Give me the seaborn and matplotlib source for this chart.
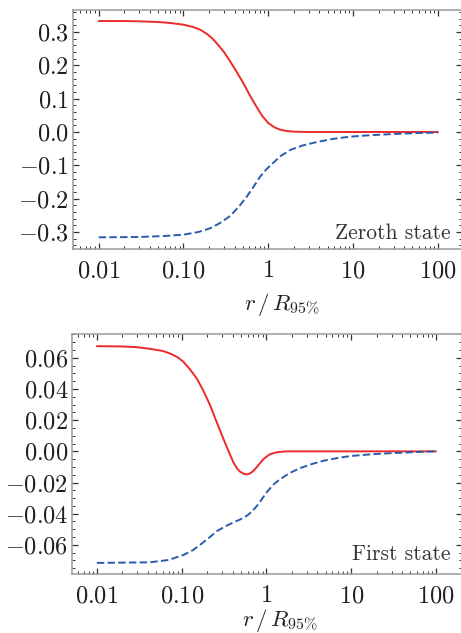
"""
Zeroth and first state profiles against r / R95%
"""

import numpy as np
import pandas as pd
import matplotlib
matplotlib.use("Agg")
import matplotlib.pyplot as plt
import matplotlib.ticker as mticker
import seaborn as sns

# zeroth state
zeroth_r_red = [0.01, 0.02, 0.03, 0.05, 0.07, 0.1, 0.13, 0.157, 0.19, 0.22, 0.247, 0.3, 0.355, 0.42,
                0.51, 0.6, 0.733, 0.85, 1.0, 1.18, 1.38, 1.65, 1.98, 3.0, 10.0, 100.0]
zeroth_red = [0.333, 0.333, 0.332, 0.330, 0.327, 0.322, 0.315, 0.307, 0.294, 0.280, 0.266, 0.240, 0.212, 0.182,
              0.146, 0.112, 0.074, 0.048, 0.027, 0.014, 0.007, 0.003, 0.001, 0.0, 0.0, 0.0]
zeroth_r_blue = [0.01, 0.03, 0.06, 0.1, 0.15, 0.206, 0.27, 0.355, 0.45, 0.558, 0.68, 0.80, 0.95, 1.15,
                 1.4, 1.81, 2.5, 3.75, 6.0, 9.3, 15.0, 30.0, 60.0, 100.0]
zeroth_blue = [-0.316, -0.315, -0.312, -0.308, -0.300, -0.289, -0.273, -0.252, -0.224, -0.194, -0.162, -0.134,
               -0.112, -0.092, -0.072, -0.054, -0.041, -0.030, -0.020, -0.014, -0.010, -0.006, -0.003, -0.002]

# first state
first_r_red = [0.01, 0.02, 0.03, 0.0423, 0.06, 0.073, 0.09, 0.105, 0.125, 0.151, 0.18, 0.217, 0.26, 0.311,
               0.36, 0.408, 0.45, 0.49, 0.54, 0.588, 0.64, 0.705, 0.8, 0.925, 1.1, 1.33, 1.6, 1.91, 10.0, 100.0]
first_red = [0.0675, 0.0673, 0.0668, 0.0658, 0.0644, 0.0628, 0.0603, 0.0574, 0.0527, 0.0467, 0.0390, 0.0295,
             0.0185, 0.0080, -0.0003, -0.0071, -0.0110, -0.0131, -0.0144, -0.0148, -0.0142, -0.0125, -0.0090,
             -0.0049, -0.0018, -0.0006, -0.0001, 0.0, 0.0, 0.0]
first_r_blue = [0.01, 0.0423, 0.07, 0.105, 0.135, 0.165, 0.21, 0.26, 0.33, 0.408, 0.5, 0.588, 0.68, 0.772,
                0.88, 1.01, 1.2, 1.45, 1.9, 2.51, 3.5, 4.73, 7.0, 9.8, 18.0, 29.0, 55.0, 100.0]
first_blue = [-0.0716, -0.0712, -0.0697, -0.0665, -0.0635, -0.0600, -0.0555, -0.0512, -0.0480, -0.0456,
              -0.0435, -0.0413, -0.0385, -0.0350, -0.0308, -0.0262, -0.0215, -0.0178, -0.0138, -0.0107,
              -0.0080, -0.0060, -0.0042, -0.0030, -0.0018, -0.0012, -0.0005, 0.0]

x_ticks = [0.01, 0.1, 1, 10, 100]
x_labels = ["0.01", "0.10", "1", "10", "100"]
zeroth_y_ticks = [-0.3, -0.2, -0.1, 0.0, 0.1, 0.2, 0.3]
first_y_ticks = [-0.06, -0.04, -0.02, 0.0, 0.02, 0.04, 0.06]

RED = "#ec2a2a"
BLUE = "#2a5cae"
SPINE = "#9a9a9a"
TICK = "#333333"

sns.set_theme(style="ticks")
plt.rcParams["mathtext.fontset"] = "cm"
plt.rcParams["font.family"] = ["cmr10", "DejaVu Serif"]


def style_axes(ax, y_ticks, y_fmt, y_minor, xlim, ylim, label, label_xy, text_xy):
    ax.set_xscale("log")
    ax.set_xlim(*xlim)
    ax.set_ylim(*ylim)

    ax.xaxis.set_major_locator(mticker.FixedLocator(x_ticks))
    ax.xaxis.set_major_formatter(mticker.FixedFormatter([f"${t}$" for t in x_labels]))
    ax.xaxis.set_minor_locator(mticker.LogLocator(base=10, subs=np.arange(2, 10)))
    ax.xaxis.set_minor_formatter(mticker.NullFormatter())

    ax.yaxis.set_major_locator(mticker.FixedLocator(y_ticks))
    ax.yaxis.set_major_formatter(mticker.FixedFormatter(["$" + (y_fmt % v) + "$" for v in y_ticks]))
    ax.yaxis.set_minor_locator(mticker.MultipleLocator(y_minor))

    ax.tick_params(which="both", direction="in", top=True, right=True,
                   color=TICK, labelcolor="#1e1e1e", labelsize=17.5)
    ax.tick_params(which="major", length=4, width=0.9)
    ax.tick_params(which="minor", length=2, width=0.7)
    ax.tick_params(axis="x", which="major", pad=8)
    ax.tick_params(axis="y", which="major", pad=3)

    for sp in ax.spines.values():
        sp.set_color(SPINE)
        sp.set_linewidth(1.1)

    ax.set_xlabel(r"$r\,/\,R_{95\%}$", fontsize=16.5, color="#222222")
    ax.xaxis.set_label_coords(*label_xy)
    ax.set_ylabel("")
    ax.text(text_xy[0], text_xy[1], label, transform=ax.transAxes,
            ha="right", va="baseline", fontsize=15.5, color="#333333",
            family=["cmr10", "DejaVu Serif"])


def draw(ax, r_red, red, r_blue, blue):
    df_red = pd.DataFrame({"r": r_red, "v": red})
    df_blue = pd.DataFrame({"r": r_blue, "v": blue})
    sns.lineplot(data=df_red, x="r", y="v", ax=ax, color=RED, linewidth=1.4)
    sns.lineplot(data=df_blue, x="r", y="v", ax=ax, color=BLUE, linewidth=1.4,
                 dashes=False, linestyle=(0, (3.8, 1.7)))


fig = plt.figure(figsize=(4.61, 6.33), dpi=100)
W, H = 461, 633

ax1 = fig.add_axes([73 / W, 1 - 249 / H, 388.5 / W, 239 / H])
draw(ax1, zeroth_r_red, zeroth_red, zeroth_r_blue, zeroth_blue)
style_axes(ax1, zeroth_y_ticks, "%.1f", 0.02, (0.00498, 190), (-0.351, 0.366),
           "Zeroth state", (0.538, -0.175), (0.972, 0.042))

ax2 = fig.add_axes([72.3 / W, 1 - 574 / H, 389.2 / W, 239.7 / H])
draw(ax2, first_r_red, first_red, first_r_blue, first_blue)
style_axes(ax2, first_y_ticks, "%.2f", 0.005, (0.00513, 200), (-0.0787, 0.0751),
           "First state", (0.534, -0.138), (0.973, 0.058))

fig.savefig("out.png", dpi=100)
